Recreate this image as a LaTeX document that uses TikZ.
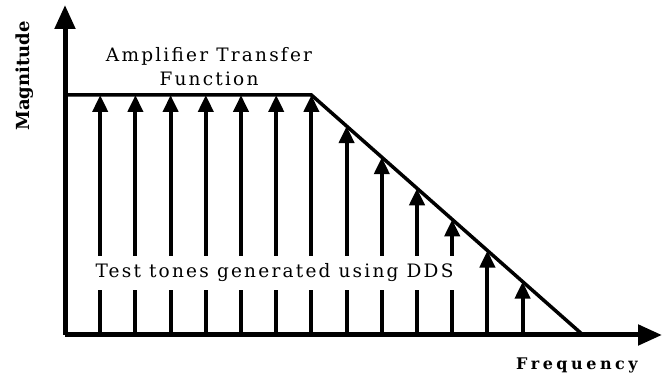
\documentclass[tikz,border=0pt]{standalone}
\usepackage{fontspec}
\setmainfont{DejaVu Serif}
\newfontfamily\spacedfont[LetterSpace=12]{DejaVu Serif}
\newfontfamily\widefont[LetterSpace=22]{DejaVu Serif}
\usetikzlibrary{arrows.meta}

\tikzset{
  axis/.style={line width=5pt,-{Triangle[length=24pt,width=20pt]}},
  tone/.style={line width=4pt,-{Triangle[length=17pt,width=15pt]}},
  response/.style={line width=3.5pt,line join=miter},
  lbl/.style={font=\spacedfont\fontsize{18.5}{24}\selectfont,align=center}
}

\begin{document}
\begin{tikzpicture}[x=1pt,y=1pt]
  \useasboundingbox (-65,-42) rectangle (603,335);

  % axes
  \coordinate (origin) at (0,0);
  \coordinate (ytop) at (0,330);
  \coordinate (xend) at (597,0);
  \draw[axis] (origin) -- (ytop);
  \draw[axis] (origin) -- (xend);

  % amplifier response
  \coordinate (flat) at (0,240);
  \coordinate (knee) at (246.4,240);
  \coordinate (cut) at (518,0);
  \draw[response] (flat) -- (knee) -- (cut);

  % test tones
  \foreach \i in {1,...,13} {
    \pgfmathsetmacro{\xx}{35.2*\i}
    \pgfmathsetmacro{\yy}{min(240,0.8837*(518-\xx))}
    \coordinate (b\i) at (\xx,0);
    \coordinate (t\i) at (\xx,\yy);
    \draw[tone] (b\i) -- (t\i);
  }

  % labels
  \node[lbl,fill=white,inner xsep=2pt,inner ysep=8pt] (tones) at (209.5,62)
    {Test tones generated using DDS};
  \node[lbl] (amp) at (144,268) {Amplifier Transfer\\Function};
  \node[font=\bfseries\fontsize{18}{20}\selectfont,rotate=90] (mag) at (-40,259) {Magnitude};
  \node[font=\widefont\bfseries\fontsize{16}{18}\selectfont] (freq) at (512,-30) {Frequency};
\end{tikzpicture}
\end{document}
